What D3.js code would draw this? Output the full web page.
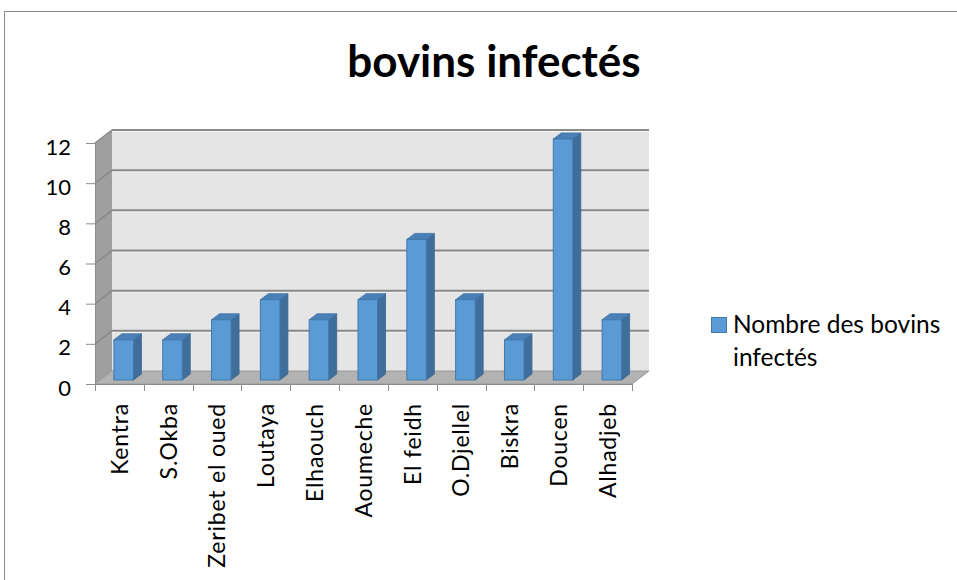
<!DOCTYPE html>
<html>
<head>
<meta charset="utf-8">
<script src="https://cdn.jsdelivr.net/npm/d3@7/dist/d3.min.js"></script>
<style>
  html, body { margin: 0; padding: 0; background: #ffffff; }
  svg { display: block; }
  text { font-family: Lato, "Open Sans", sans-serif; fill: #000; }
</style>
</head>
<body>
<svg id="chart" width="957" height="580"></svg>
<script>
// Chart data
const categories = ["Kentra", "S.Okba", "Zeribet el oued", "Loutaya", "Elhaouch",
  "Aoumeche", "El feidh", "O.Djellel", "Biskra", "Doucen", "Alhadjeb"];
const values = [2, 2, 3, 4, 3, 4, 7, 4, 2, 12, 3];
const yTicks = [0, 2, 4, 6, 8, 10, 12];
const seriesName = ["Nombre des bovins", "infectés"];
const title = "bovins infectés";

const svg = d3.select("#chart");

// Outer chart frame
svg.append("rect")
  .attr("x", 4.5).attr("y", 11.5)
  .attr("width", 1000).attr("height", 700)
  .attr("fill", "#fff").attr("stroke", "#8c8c8c").attr("stroke-width", 1);

// Plot geometry: front plane and the oblique depth offset of the back wall
const x = d3.scaleBand().domain(categories).range([95, 632]);
const y = d3.scaleLinear().domain([0, 12]).range([384, 143]);
const DX = 17, DY = -13;

const g = svg.append("g");

// Back wall
g.append("polygon")
  .attr("points", [[95 + DX, y(12) + DY], [632 + DX, y(12) + DY], [632 + DX, y(0) + DY], [95 + DX, y(0) + DY]].join(" "))
  .attr("fill", "#e5e5e5");

// Left side wall
g.append("polygon")
  .attr("points", [[95, y(12)], [95 + DX, y(12) + DY], [95 + DX, y(0) + DY], [95, y(0)]].join(" "))
  .attr("fill", "#9f9f9f");

// Gridlines on the back wall and the side wall
const gridVals = yTicks.filter(v => v > 0);
g.selectAll(".grid-hl").data(gridVals).join("line")
  .attr("x1", 95 + DX).attr("x2", 632 + DX)
  .attr("y1", v => y(v) + DY + 1.5).attr("y2", v => y(v) + DY + 1.5)
  .attr("stroke", "#f4f4f4").attr("stroke-width", 1);
g.selectAll(".grid").data(gridVals).join("line")
  .attr("x1", 95 + DX).attr("x2", 632 + DX)
  .attr("y1", v => y(v) + DY).attr("y2", v => y(v) + DY)
  .attr("stroke", "#8a8a8a").attr("stroke-width", 2);
g.selectAll(".grid-side").data(gridVals).join("line")
  .attr("x1", 95).attr("x2", 95 + DX)
  .attr("y1", v => y(v)).attr("y2", v => y(v) + DY)
  .attr("stroke", "#888888").attr("stroke-width", 1.5);

// Floor
g.append("polygon")
  .attr("points", [[95, y(0)], [632, y(0)], [632 + DX, y(0) + DY], [95 + DX, y(0) + DY]].join(" "))
  .attr("fill", "#b2b2b2").attr("stroke", "#9a9a9a").attr("stroke-width", 1);

// 3D columns
const bw = x.bandwidth() * 0.4;
const off = x.bandwidth() * 0.285;
const fdx = 5, fdy = -4;      // column front face sits slightly back from the front plane
const cdx = 8, cdy = -6;      // column depth
const bars = g.selectAll(".bar").data(categories.map((c, i) => ({ c, v: values[i] }))).join("g");
bars.each(function (d) {
  const sel = d3.select(this);
  const bx = x(d.c) + off + fdx;
  const yt = y(d.v) + fdy, yb = y(0) + fdy;
  sel.append("polygon")
    .attr("points", [[bx + bw, yt], [bx + bw + cdx, yt + cdy], [bx + bw + cdx, yb + cdy], [bx + bw, yb]].join(" "))
    .attr("fill", "#3f6e9b").attr("stroke", "#3a6690").attr("stroke-width", 0.8);
  sel.append("polygon")
    .attr("points", [[bx, yt], [bx + cdx, yt + cdy], [bx + bw + cdx, yt + cdy], [bx + bw, yt]].join(" "))
    .attr("fill", "#4a80b8").attr("stroke", "#3f73a6").attr("stroke-width", 0.8);
  sel.append("rect")
    .attr("x", bx).attr("y", yt).attr("width", bw).attr("height", yb - yt)
    .attr("fill", "#5b9bd5").attr("stroke", "#4378aa").attr("stroke-width", 1);
});

// Value axis
const yAxis = svg.append("g").attr("transform", "translate(95,0)")
  .call(d3.axisLeft(y).tickValues(yTicks).tickSize(9).tickPadding(15).tickSizeOuter(0));
yAxis.select(".domain").attr("stroke", "#8c8c8c");
yAxis.selectAll(".tick line").attr("stroke", "#8c8c8c");
yAxis.selectAll(".tick text")
  .attr("font-size", 22).attr("font-family", "Lato, sans-serif").attr("fill", "#000").attr("dy", "0.5em");

// Category axis: baseline, boundary ticks, rotated labels
const xAxis = svg.append("g");
xAxis.append("line").attr("x1", 95).attr("x2", 632).attr("y1", y(0) + 0.5).attr("y2", y(0) + 0.5)
  .attr("stroke", "#8c8c8c");
const bounds = categories.map(c => x(c)).concat([x.range()[1]]);
xAxis.selectAll(".xt").data(bounds).join("line")
  .attr("x1", d => Math.round(d) + 0.5).attr("x2", d => Math.round(d) + 0.5)
  .attr("y1", y(0)).attr("y2", y(0) + 7)
  .attr("stroke", "#8c8c8c");
xAxis.selectAll(".xl").data(categories).join("text")
  .attr("transform", d => `translate(${x(d) + x.bandwidth() / 2},403) rotate(-90)`)
  .attr("text-anchor", "end")
  .attr("dy", "0.36em")
  .attr("font-size", 23)
  .attr("letter-spacing", 0.8)
  .text(d => d);

// Title
svg.append("text")
  .attr("x", 494).attr("y", 77)
  .attr("text-anchor", "middle")
  .attr("font-size", 44).attr("font-weight", "bold")
  .text(title);

// Legend
svg.append("rect")
  .attr("x", 711.5).attr("y", 317.5).attr("width", 15).attr("height", 15)
  .attr("fill", "#5b9bd5").attr("stroke", "#4378aa");
svg.selectAll(".leg").data(seriesName).join("text")
  .attr("x", 733).attr("y", (d, i) => 333 + i * 32.5)
  .attr("font-size", 24.5)
  .text(d => d);
</script>
</body>
</html>
